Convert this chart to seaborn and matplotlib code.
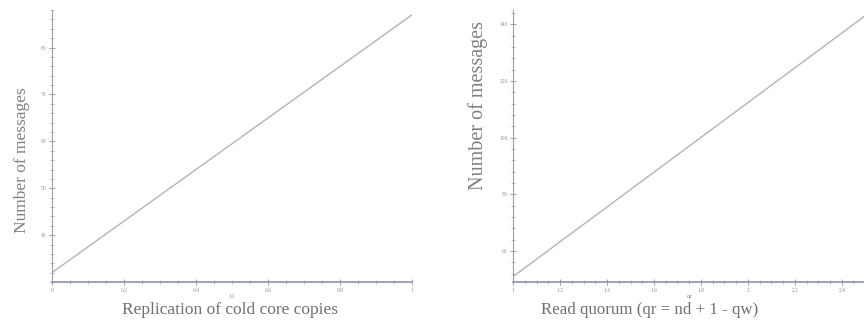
import numpy as np
import pandas as pd
import matplotlib
matplotlib.use("Agg")
import matplotlib.pyplot as plt
from matplotlib.ticker import AutoMinorLocator, MultipleLocator
import seaborn as sns

# left panel: replication of cold core copies
cold_copies = [0.0, 1.0]
cold_messages = [32, 87]
cold_xticks = [0, 0.2, 0.4, 0.6, 0.8, 1]
cold_xticklabels = ["0", "0.2", "0.4", "0.6", "0.8", "1"]
cold_yticks = [40, 50, 60, 70, 80]

# right panel: read quorum
read_quorum = [1.0, 2.5]
quorum_messages = [51, 143]
quorum_xticks = [1, 1.2, 1.4, 1.6, 1.8, 2, 2.2, 2.4]
quorum_xticklabels = ["1", "1.2", "1.4", "1.6", "1.8", "2", "2.2", "2.4"]
quorum_yticks = [60, 80, 100, 120, 140]


def style_axes(ax, xticks, xticklabels, yticks):
	for side in ["top", "right"]:
		ax.spines[side].set_visible(False)
	ax.spines["left"].set_color("#a0a0a0")
	ax.spines["left"].set_linewidth(0.8)
	ax.spines["bottom"].set_color("#8a92b0")
	ax.spines["bottom"].set_linewidth(1.2)
	ax.set_xticks(xticks)
	ax.set_xticklabels(xticklabels)
	ax.set_yticks(yticks)
	ax.xaxis.set_minor_locator(AutoMinorLocator(4))
	ax.yaxis.set_minor_locator(AutoMinorLocator(5))
	ax.tick_params(axis="both", which="both", bottom=True, left=True)
	ax.tick_params(axis="both", which="major", direction="inout", length=4,
				   width=0.6, color="#909090", labelsize=4, labelcolor="#909090", pad=2)
	ax.tick_params(axis="both", which="minor", direction="inout", length=2.5,
				   width=0.5, color="#a0a0a0")
	ax.grid(False)


def main():
	sns.set_style("white")
	plt.rcParams["font.family"] = ["Liberation Serif", "DejaVu Serif"]

	fig = plt.figure(figsize=(8.64, 3.25), dpi=100)
	ax1 = fig.add_axes([0.060, 0.132, 0.417, 0.837])
	ax2 = fig.add_axes([0.594, 0.132, 0.4074, 0.837])

	df1 = pd.DataFrame({"x": cold_copies, "msgs": cold_messages})
	sns.lineplot(data=df1, x="x", y="msgs", ax=ax1, color="#b4b4b4", linewidth=1.0)
	ax1.set_xlim(0, 1)
	ax1.set_ylim(30, 88)
	style_axes(ax1, cold_xticks, cold_xticklabels, cold_yticks)
	ax1.set_xlabel("")
	ax1.set_ylabel("Number of messages", fontsize=12.5, color="#808080")
	ax1.yaxis.set_label_coords(-0.061, 0.45)
	ax1.text(0.5, -0.045, "11", transform=ax1.transAxes, ha="center", va="top",
			 fontsize=5, color="#909090")
	fig.text(0.266, 0.022, "Replication of cold core copies", ha="center", va="bottom",
			 fontsize=12.5, color="#707070")

	df2 = pd.DataFrame({"qr": read_quorum, "msgs": quorum_messages})
	sns.lineplot(data=df2, x="qr", y="msgs", ax=ax2, color="#b4b4b4", linewidth=1.0)
	ax2.set_xlim(1, 2.5)
	ax2.set_ylim(49, 145)
	style_axes(ax2, quorum_xticks, quorum_xticklabels, quorum_yticks)
	ax2.set_xlabel("")
	ax2.set_ylabel("Number of messages", fontsize=14.5, color="#808080")
	ax2.yaxis.set_label_coords(-0.072, 0.65)
	ax2.text(0.5, -0.045, "qr", transform=ax2.transAxes, ha="center", va="top",
			 fontsize=5, color="#909090")
	fig.text(0.752, 0.022, "Read quorum (qr = nd + 1 - qw)", ha="center", va="bottom",
			 fontsize=12.2, color="#707070")

	plt.savefig("out.png", dpi=100)


if __name__ == "__main__":
	main()
